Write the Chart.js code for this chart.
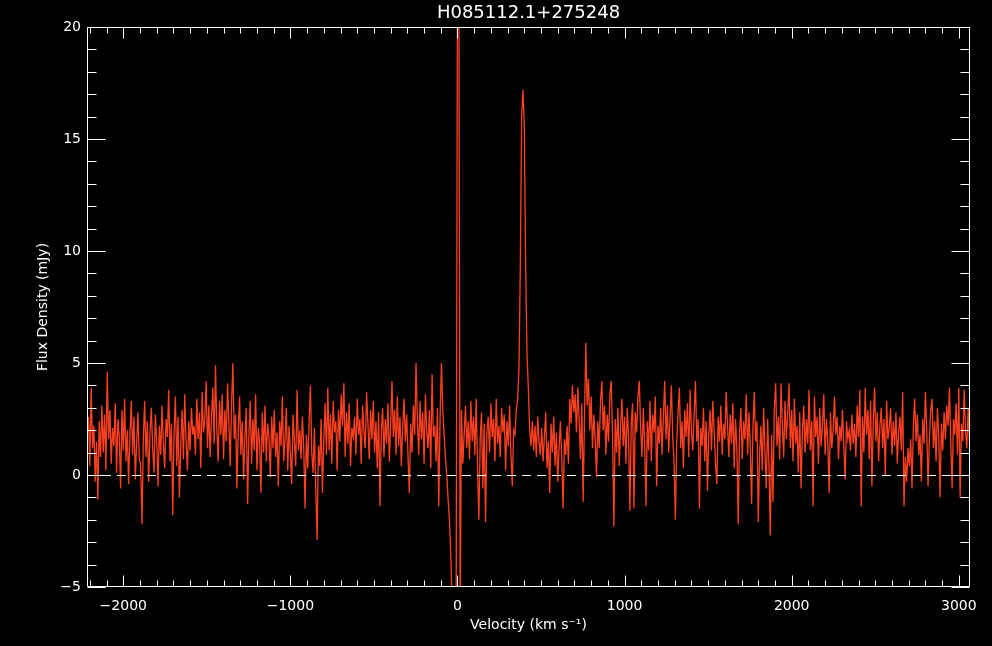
<!DOCTYPE html>
<html><head><meta charset="utf-8">
<script src="https://cdn.jsdelivr.net/npm/chart.js@4/dist/chart.umd.min.js"></script>
<style>html,body{margin:0;padding:0;background:#000;overflow:hidden}canvas{display:block}</style>
</head><body>
<canvas id="c" width="992" height="646"></canvas>
<script>
const chartTitle = "H085112.1+275248";
const xTitle = "Velocity (km s\u207B\u00B9)";
const yTitle = "Flux Density (mJy)";
const xRange = [-2217, 3067];
const yRange = [-5, 20];
const xTicks = [-2000, -1000, 0, 1000, 2000, 3000];
const yTicks = [-5, 0, 5, 10, 15, 20];
const xMajorStep = 1000, xMinorStep = 100;
const yMajorStep = 5, yMinorStep = 1;
const zeroLevel = [0, 0];
// channel grid (km/s)
const velStart = -2216, velStep = 8;
// flux density per channel (mJy), 20 channels per row
const flux = [
 1.8, 2.6, 0.4, 3.9, 1.2, 2.2,-0.3, 1.5,-1.1, 2.4, 0.8, 3.1, 1.0, 2.7, 0.2, 4.6, 1.6, 2.9, 0.5, 2.1,
 1.3, 3.2, 0.1, 2.5, 1.7,-0.6, 2.9, 1.1, 3.4, 0.6, 2.0,-0.4, 1.8, 3.3, 0.9, 2.6,-0.2, 1.4, 2.8, 0.7,
 0.5,-2.2, 1.6, 3.3, 0.8, 2.4,-0.3, 1.9, 3.0, 1.2, 0.1, 2.7, 1.5,-0.5, 2.2, 0.9, 3.1, 1.4, 0.3, 2.5,
 1.7, 3.8, 0.6, 2.3,-1.8, 1.9, 3.5, 0.4, 2.6,-1.0, 1.3, 2.9, 0.7, 3.6, 1.5, 0.2, 2.4, 1.1, 3.0, 1.8,
 2.2, 0.9, 3.4, 1.6, 2.8, 0.3, 3.7, 1.9, 2.5, 4.2, 1.2, 3.1, 0.8, 2.6, 3.9, 1.4, 4.9, 2.0, 0.6, 3.3,
 1.8, 3.6, 0.7, 2.9, 1.5, 4.1, 2.3, 0.4, 3.2, 5.0, 1.6, 2.7,-0.6, 2.0, 3.5, 0.9, 2.4,-0.2, 1.7, 3.0,
-1.3, 1.8, 3.3, 0.5, 2.5, 1.1, 3.6, 0.2, 2.1, 1.4,-0.8, 2.8, 1.0, 3.1, 0.6, 2.3, 1.7,-0.1, 2.6, 1.2,
 2.9, 0.8, 1.9,-0.5, 2.4, 1.3, 3.5, 0.6, 1.6, 3.0, 0.2, 2.2, 1.0,-0.4, 2.7, 1.5, 0.4, 3.8, 1.1, 2.0,
 0.7, 2.6, 1.2,-1.5, 1.8, 0.3, 2.4, 4.0, 1.0, 0.1, 2.1,-0.7,-2.9, 1.3, 0.4, 2.5,-0.8, 1.6, 3.2, 0.9,
 3.9, 1.1, 2.7, 0.5, 3.3, 1.9, 2.4, 0.2, 2.9, 1.5, 3.6, 2.2, 4.1, 0.8, 2.8, 1.4, 3.2, 0.4, 2.1, 1.7,
 2.6, 0.9, 3.4, 1.8, 2.5, 0.5, 3.1, 2.0, 1.2, 3.7, 2.3, 0.7, 2.9, 1.6, 3.3, 1.0, 2.4, 0.3, 2.8,-1.4,
 1.9, 3.0, 0.8, 2.5, 1.4, 3.2, 0.6, 2.2, 4.2, 1.7, 2.9, 0.9, 3.5, 1.3, 2.6, 0.4, 2.1, 3.4, 1.5, 2.7,
 0.8,-0.8, 2.3, 1.0, 3.1, 1.8, 5.0, 2.4, 0.9, 3.3, 1.6, 2.8, 0.5, 3.6, 2.0, 1.2, 2.9, 0.3, 4.5, 1.7,
 2.2, 0.6, 3.0,-1.4, 2.6, 5.0, 2.9, 1.8, 0.8, 0.0,-1.1,-2.0,-3.6,-5.8,-6.5,-6.8,-6.2,22.0,24.0,-6.5,
 2.9, 0.5, 1.8, 3.1, 1.2, 2.4, 0.7, 3.3, 1.5, 2.6, 0.9, 3.4, 0.4,-2.0, 1.6, 2.8,-0.6, 2.3,-2.1, 1.9,
 2.6, 1.0, 3.2, 1.7, 2.5, 0.6, 3.4, 1.4, 2.2, 0.8, 3.0, 1.9, 2.7, 0.2, 2.4, 1.3, 3.1, 0.9,-0.5, 2.0,
 1.8, 2.9, 3.4, 4.8, 9.3,16.0,17.2,15.5, 9.3, 5.4, 3.9, 2.0, 1.3, 2.4, 1.1, 2.2, 0.8, 2.6, 1.5, 0.9,
 2.1, 0.6, 1.7, 2.8, 0.3, 1.5,-0.8, 2.3, 1.0, 2.6, 0.4, 1.9,-0.3, 1.2, 2.4, 0.7,-1.5, 1.6, 0.9, 2.2,
 0.5, 3.4, 2.3, 4.0, 2.8, 3.6, 1.9, 3.9, 2.5, 0.7, 3.2,-1.2, 2.6, 5.9, 3.1, 4.3, 2.0, 3.5, 1.2, 2.7,
 1.6,-0.1, 2.4, 1.2, 3.3, 4.2, 2.0, 3.1, 0.9, 2.7, 1.5, 3.6, 4.2, 1.8,-2.3, 2.5, 1.0, 3.0, 0.4, 2.2,
 3.4, 1.3, 2.6, 0.5, 3.0, 1.7,-1.6, 2.3, 3.2,-1.5, 2.8, 1.9, 3.5, 4.2, 2.1, 0.8, 3.0, 1.4,-1.4, 2.4,
 1.1, 3.3, 0.6, 2.7, 1.9, 3.5,-0.5, 2.2, 1.4, 3.0, 0.9, 2.6, 4.2, 1.6, 3.1, 1.0, 2.5, 4.0, 1.7, 0.6,
-2.0, 1.5, 2.8, 3.9, 1.2, 2.4, 0.3, 2.9, 1.7, 3.2, 0.8, 3.8, 2.0, 1.1, 2.7, 4.2, 1.5, 2.5,-1.5, 2.1,
 1.3, 3.0, 0.6, 2.4,-0.7, 1.8, 2.9, 1.1, 3.3, 2.0, 0.5,-0.4, 2.6, 1.5, 3.1, 0.9, 2.3, 1.6, 3.7, 2.2,
 0.8, 2.7, 1.4, 3.2, 0.3, 2.5, 1.2,-2.2, 1.9, 3.0, 0.7, 2.4, 1.6, 3.6, 0.9, 2.8, 1.3,-1.3, 2.1, 3.7,
 1.5, 2.4,-2.1, 0.9, 2.2, 0.2, 3.0, 1.1,-0.6, 2.5, 0.4,-2.7, 1.8,-1.2, 2.9, 4.1, 1.3, 2.6, 0.7, 4.1,
 2.3, 0.8, 3.3, 1.6, 2.7, 4.1, 1.2, 2.9, 0.6, 3.4, 1.4, 2.2, 0.1, 2.8,-0.6, 1.9, 3.1, 1.0, 2.5, 1.4,
 3.8, 1.1, 2.4,-1.4, 3.5, 1.7, 2.6, 0.5, 3.0, 1.3, 2.2, 3.6, 0.9, 2.5, 1.5,-0.8, 2.8, 1.2, 2.0, 3.5,
 1.8, 2.6, 0.7, 2.2, 1.5, 2.9, 1.2,-0.2, 2.4, 1.6, 2.0, 1.1, 2.7, 1.4, 2.3, 0.8, 3.1, 1.7, 3.8,-1.4,
 2.6, 1.0, 3.9, 1.8, 2.9, 0.7, 3.3,-0.5, 2.4, 3.9, 1.5, 2.8, 0.6, 2.2, 3.0, 1.2, 2.5, 0.0, 3.3, 1.6,
 2.1, 3.0, 0.9, 2.4, 1.3, 2.8, 0.5, 1.9, 2.6, 1.1, 3.7,-1.4, 0.8,-0.3, 1.2, 0.4, 1.6,-0.6, 2.2, 3.4,
 1.5, 2.7, 0.9, 1.8,-0.3, 2.5, 1.4, 3.7, 2.1,-0.5, 1.6, 2.9, 3.4, 1.2, 2.4, 0.6, 3.0, 1.7,-1.0, 2.3,
 1.1, 2.8, 1.6, 3.1, 2.2, 3.9, 1.4,-0.6, 2.5, 1.8, 3.2, 0.9, 3.9,-1.0, 2.3, 1.5, 3.8, 2.0, 1.2, 3.0,
 1.4
];

const spectrum = flux.map((f, i) => ({ x: velStart + i * velStep, y: f }));
const zeroData = xRange.map((v, i) => ({ x: v, y: zeroLevel[i] }));
const fmt = v => String(v).replace('-', '\u2212');

Chart.defaults.font.family = "'DejaVu Sans', sans-serif";
Chart.defaults.color = '#fff';

const bgPlugin = {
  id: 'bg',
  beforeDraw(chart) {
    const c = chart.ctx;
    c.save(); c.fillStyle = '#000'; c.fillRect(0, 0, chart.width, chart.height); c.restore();
  },
  // keep the 1px dashed zero line on a whole pixel row
  beforeDatasetDraw(chart, args) {
    if (args.index === 0) { chart.ctx.save(); chart.ctx.translate(0, 0.5); }
  },
  afterDatasetDraw(chart, args) {
    if (args.index === 0) { chart.ctx.restore(); }
  }
};

const framePlugin = {
  id: 'frame',
  afterDraw(chart) {
    const c = chart.ctx;
    const { left, right, top, bottom } = chart.chartArea;
    const xs = chart.scales.x, ys = chart.scales.y;
    const L = Math.round(left) + 0.5, R = Math.round(right) - 0.5;
    const T = Math.round(top) + 0.5, B = Math.round(bottom) - 0.5;
    c.save();
    c.strokeStyle = '#fff'; c.lineWidth = 1;
    c.beginPath();
    c.moveTo(L, T); c.lineTo(R, T); c.lineTo(R, B); c.lineTo(L, B); c.closePath();
    for (let v = Math.ceil(xRange[0] / xMinorStep) * xMinorStep; v <= xRange[1]; v += xMinorStep) {
      const px = Math.round(xs.getPixelForValue(v)) + 0.5;
      const len = (v % xMajorStep === 0) ? 11 : 6;
      c.moveTo(px, B); c.lineTo(px, B - len);
      c.moveTo(px, T); c.lineTo(px, T + len);
    }
    for (let v = Math.ceil(yRange[0] / yMinorStep) * yMinorStep; v <= yRange[1]; v += yMinorStep) {
      const py = Math.round(ys.getPixelForValue(v)) + 0.5;
      const len = (v % yMajorStep === 0) ? 18 : 9;
      c.moveTo(L, py); c.lineTo(L + len, py);
      c.moveTo(R, py); c.lineTo(R - len, py);
    }
    c.stroke();
    c.restore();
  }
};

new Chart(document.getElementById('c').getContext('2d'), {
  type: 'line',
  data: {
    datasets: [
      { data: zeroData, borderColor: '#ffffff', borderWidth: 1, borderDash: [9, 6], pointRadius: 0, tension: 0 },
      { data: spectrum, borderColor: '#ff4020', borderWidth: 1.3, pointRadius: 0, tension: 0 }
    ]
  },
  options: {
    responsive: false,
    animation: false,
    devicePixelRatio: 1,
    layout: { padding: { left: 0, right: 22, top: 0, bottom: 0 } },
    plugins: {
      legend: { display: false },
      tooltip: { enabled: false },
      title: {
        display: true, text: chartTitle, color: '#fff', fullSize: false,
        font: { size: 18, weight: 'normal', lineHeight: 1.2 },
        padding: { top: 2.2, bottom: 3.2 }
      }
    },
    scales: {
      x: {
        type: 'linear', min: xRange[0], max: xRange[1],
        grid: { display: false, drawTicks: false }, border: { display: false },
        afterBuildTicks: s => { s.ticks = xTicks.map(v => ({ value: v })); },
        ticks: { autoSkip: false, maxRotation: 0, minRotation: 0,
                 color: '#fff', font: { size: 14 }, padding: 11, callback: v => fmt(v) },
        title: { display: true, text: xTitle, color: '#fff', font: { size: 14 }, padding: { top: 0, bottom: 12 } },
        afterFit: s => { s.height = 59; s.paddingLeft = 0; s.paddingRight = 0; }
      },
      y: {
        type: 'linear', min: yRange[0], max: yRange[1],
        grid: { display: false, drawTicks: false }, border: { display: false },
        afterBuildTicks: s => { s.ticks = yTicks.map(v => ({ value: v })); },
        ticks: { autoSkip: false, color: '#fff', font: { size: 14 }, padding: 6, callback: v => fmt(v) },
        title: { display: true, text: yTitle, color: '#fff', font: { size: 14 }, padding: { top: 35, bottom: 0 } },
        afterFit: s => { s.width = 87; s.paddingTop = 0; s.paddingBottom = 0; }
      }
    }
  },
  plugins: [bgPlugin, framePlugin]
});
</script>
</body></html>
